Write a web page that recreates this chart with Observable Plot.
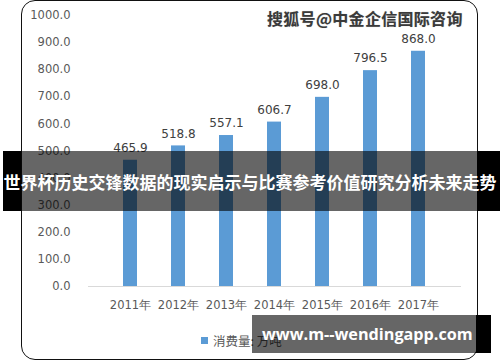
<!DOCTYPE html>
<html><head><meta charset="utf-8">
<script src="https://cdn.jsdelivr.net/npm/d3@7"></script>
<script src="https://cdn.jsdelivr.net/npm/@observablehq/plot@0.6"></script>
<style>
html,body{margin:0;padding:0;background:#fff;}
#page{position:relative;width:500px;height:362px;overflow:hidden;font-family:"DejaVu Sans",sans-serif;}
#frame{position:absolute;left:21px;top:0px;width:455px;height:358px;border:1.5px solid #111;border-radius:14px;}
#chart{position:absolute;left:0;top:0;}
#legend{position:absolute;left:201px;top:331px;font-size:12.5px;color:#595959;font-family:"Noto Sans CJK SC",sans-serif;display:flex;align-items:center;gap:5px;}
#legend .sw{width:7px;height:7px;background:#5b9bd5;}
#wm{position:absolute;left:267px;top:6px;font-family:"Noto Sans CJK SC",sans-serif;font-weight:bold;font-size:16px;color:#3a3a3a;letter-spacing:0.3px;text-shadow:0 0 1px #bbb;}
#band{position:absolute;left:0;top:151px;width:500px;height:60px;}
#band .l{position:absolute;left:3px;width:18px;top:0;height:100%;background:#000;}
#band .m{position:absolute;left:21px;width:456px;top:0;height:100%;background:rgba(0,0,0,0.6);}
#band .r{position:absolute;left:477px;width:23px;top:0;height:100%;background:#000;}
#band .t{position:absolute;left:0;width:500px;top:0;height:100%;display:flex;align-items:center;justify-content:center;color:#fff;font-family:"Noto Sans CJK SC",sans-serif;font-weight:bold;font-size:17px;white-space:nowrap;}
#site{position:absolute;left:252px;top:315px;width:239px;height:38px;}
#site .m{position:absolute;left:0;width:224px;top:0;height:100%;background:rgba(0,0,0,0.6);}
#site .r{position:absolute;left:224px;width:15px;top:0;height:100%;background:#000;}
#site .t{position:absolute;left:10px;top:0;height:100%;display:flex;align-items:center;color:#fff;font-family:"Open Sans",sans-serif;font-weight:bold;font-size:16.2px;white-space:nowrap;}
</style></head>
<body>
<div id="page">
  <div id="frame"></div>
  <div id="chart"></div>
  <div id="wm">搜狐号@中金企信国际咨询</div>
  <div id="legend"><span class="sw"></span><span>消费量: 万吨</span></div>
  <div id="band"><div class="l"></div><div class="m"></div><div class="r"></div><div class="t">世界杯历史交锋数据的现实启示与比赛参考价值研究分析未来走势</div></div>
  <div id="site"><div class="m"></div><div class="r"></div><div class="t">www.m--wendingapp.com</div></div>
</div>
<script>
const years = ["2011年","2012年","2013年","2014年","2015年","2016年","2017年"];
const consumption = [465.9, 518.8, 557.1, 606.7, 698.0, 796.5, 868.0];
const yTicks = [0,100,200,300,400,500,600,700,800,900,1000];

const data = years.map((y,i)=>({year:y, value:consumption[i]}));

const chart = Plot.plot({
  width: 500,
  height: 325,
  marginLeft: 88,
  marginRight: 39,
  marginTop: 15,
  marginBottom: 39,
  style: {background: "transparent", fontFamily: "DejaVu Sans, sans-serif", fontSize: "11.5px", color: "#595959"},
  x: {domain: years, padding: 0.7, label: null, tickSize: 0, tickPadding: 14},
  y: {domain: [0, 1000], ticks: yTicks, tickFormat: d => d.toFixed(1), label: null, tickSize: 0, tickPadding: 18},
  marks: [
    Plot.barY(data, {x: "year", y: "value", fill: "#5b9bd5"}),
    Plot.ruleY([0], {stroke: "#d9d9d9", strokeWidth: 1.2}),
    Plot.text(data, {x: "year", y: "value", text: d => d.value.toFixed(1), dy: -12, fill: "#404040", fontSize: 12})
  ]
});
document.getElementById("chart").appendChild(chart);
</script>
</body></html>
